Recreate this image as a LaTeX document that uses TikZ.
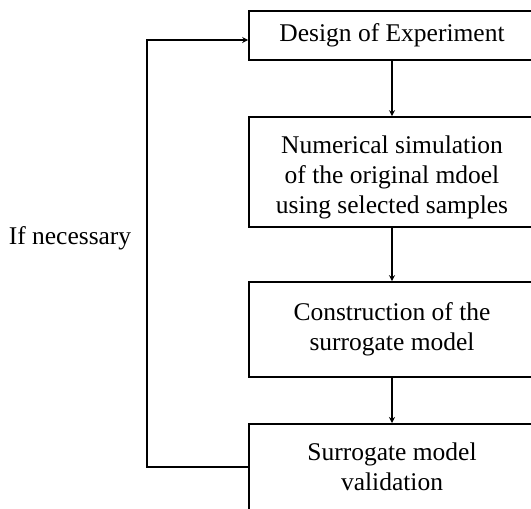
\documentclass[tikz,border=0pt]{standalone}
\usepackage{fontspec}
\setmainfont{Liberation Serif}
\usetikzlibrary{arrows.meta}
\tikzset{
  flowbox/.style={draw, line width=1.6pt, rectangle, inner sep=0pt,
    minimum width=286pt, align=center,
    font=\fontsize{25.5pt}{30pt}\selectfont},
  flowtext/.style={align=center, inner sep=0pt,
    font=\fontsize{25.5pt}{30pt}\selectfont},
  flowarrow/.style={line width=1.6pt, -{Stealth[length=6pt,width=6pt]}},
}
\begin{document}
\begin{tikzpicture}[x=1pt, y=-1pt]
  \useasboundingbox (0,0) rectangle (531,509);
  \clip (0,0) rectangle (531,509);

  % process boxes (they run past the right edge)
  \node[flowbox, minimum height=49pt] (doe) at (392,35.5) {Design of Experiment};
  \node[flowbox, minimum height=110pt] (sim) at (392,172) {};
  \node[flowtext] (simtxt) at (392,177)
    {Numerical simulation\\of the original mdoel\\using selected samples};
  \node[flowbox, minimum height=95pt] (sur) at (392,329.5)
    {Construction of the\\surrogate model};
  \node[flowbox, minimum height=100pt, anchor=north] (val) at (392,423) {};
  \node[flowtext] (valtxt) at (392,467) {Surrogate model\\validation};

  \node[flowtext] (ifn) at (70,238) {If necessary};

  % main flow
  \draw[flowarrow] (doe) -- (sim);
  \draw[flowarrow] (sim) -- (sur);
  \draw[flowarrow] (sur) -- (val);

  % feedback loop
  \coordinate (lb) at (147,467);
  \coordinate (lt) at (147,40);
  \draw[flowarrow] (val.west |- lb) -- (lb) -- (lt) -- (doe.west |- lt);
\end{tikzpicture}
\end{document}
